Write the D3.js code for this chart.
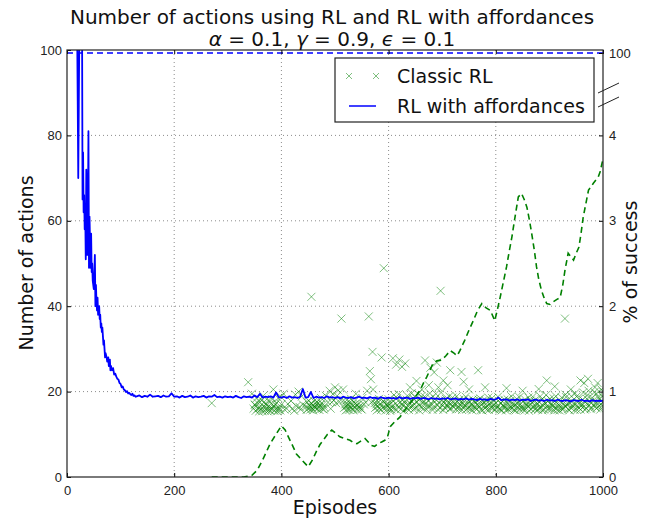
<!DOCTYPE html>
<html>
<head>
<meta charset="utf-8">
<script src="https://cdn.jsdelivr.net/npm/d3@7"></script>
<style>
  body { margin: 0; background: #fff; }
  svg { display: block; font-family: "DejaVu Sans", sans-serif; }
</style>
</head>
<body>
<svg id="chart" width="652" height="520"></svg>
<script>
// x ticks / y ticks
const episodeTicks = [0, 200, 400, 600, 800, 1000]
const actionTicks = [0, 20, 40, 60, 80, 100]
const successTicks = [0, 1, 2, 3, 4, 100]

// RL with affordances, number of actions (early, noisy part), [episode, actions]
const affordEarly = [
  [1,130],[3,150],[5,120],[8,160],[11,140],[14,125],[17,110],[19,104],[20,88],[21,70],
  [22,87],[23,104],[25,120],[26,104],[28,110],[29,65],[30,76],[31,62],[32,66],[33,58],
  [34,62],[35,51],[36,72],[37,66],[38,52],[39,60],[40,81],[41,49],[42,61],[43,55],
  [44,49],[45,57],[46,48],[47,50],[48,46],[50,44],[51,48],[52,52],[53,40],[54,45],
  [55,41],[56,39],[57,42],[58,38],[60,40],[61,37],[62,38],[63,35],[64,36],[65,34],
  [66,35],[67,33],[68,31],[69,32],[70,30],[71,28],[72,29],[74,28],[75,27],[77,28],
  [78,26],[80,27.5],[81,25],[82,26],[84,25],[86,25.5],[88,24],[90,24.2],[92,23.5],[94,23],
  [96,22.8],[98,22],[100,21.8],[102,21],[104,21.2],[106,20.5],[108,20.3],[110,19.9],[112,20.1],[114,19.6],
  [116,19.7],[118,19.4],[120,19.2],[122,19.5],[124,19.0],[126,19.1],[128,18.8]
]

// RL with affordances, number of actions, one value every 5 episodes from 130 to 1000
const affordTailStart = 130
const affordTailStep = 5
const affordTail = [
  18.9,19.1,18.7,19.0,18.8,19.3,18.8,18.9,19.0,18.7,19.1,18.8,18.9,19.6,
  18.8,18.9,18.6,19.0,18.7,18.8,19.1,18.6,18.9,18.7,18.8,19.0,18.6,18.9,18.8,19.2,18.7,18.8,18.6,18.9,
  18.7,18.8,18.6,19.0,18.7,18.5,18.9,18.7,18.8,18.6,19.1,18.7,19.5,18.6,18.8,18.7,18.9,18.6,19.8,18.7,
  18.6,18.8,18.5,18.9,18.6,18.7,18.5,18.8,20.6,18.6,18.7,19.9,18.5,18.8,18.6,18.7,18.5,18.9,18.6,18.7,
  18.5,18.7,18.4,18.8,18.6,18.5,18.7,18.4,18.6,18.8,18.5,18.6,18.4,18.7,18.5,18.6,18.3,18.7,18.5,18.4,
  18.6,18.4,18.5,18.3,18.7,18.4,18.5,18.6,18.3,18.5,18.4,18.6,18.3,18.5,18.4,18.2,18.5,18.3,18.4,18.2,
  18.4,18.3,18.5,18.2,18.3,18.4,18.1,18.3,18.2,18.4,18.1,18.3,18.2,18.0,18.3,18.1,18.2,18.0,18.3,18.1,
  18.2,18.6,18.0,18.1,18.2,17.9,18.1,18.0,18.2,17.9,18.1,18.0,18.2,17.8,18.0,18.1,17.9,18.0,17.8,18.1,
  17.9,18.0,17.8,18.1,17.9,17.8,18.0,17.9,17.7,18.0,17.9,17.8,18.1,17.8,17.9,17.7,18.0,17.8,17.9,17.8,
  17.9
]

// RL with affordances, % of success
const affordSuccess = [[0,100],[1000,100]]

// Classic RL, % of success, [episode, percent]
const classicSuccess = [
  [270,0],[300,0],[330,0],[345,0.02],[355,0.08],[365,0.2],[379,0.39],[391,0.51],[400,0.6],[407,0.55],
  [413,0.47],[420,0.38],[428,0.27],[438,0.2],[450,0.12],[458,0.2],[466,0.31],[472,0.38],[478,0.43],[486,0.5],
  [494,0.55],[500,0.52],[509,0.47],[518,0.45],[528,0.43],[535,0.4],[541,0.39],[548,0.42],[556,0.45],[562,0.41],
  [568,0.37],[574,0.36],[580,0.39],[587,0.41],[593,0.43],[598,0.47],[603,0.59],[612,0.65],[621,0.7],[630,0.78],
  [640,0.86],[650,0.94],[659,1.02],[665,1.1],[671,1.17],[677,1.25],[683,1.33],[690,1.36],[699,1.37],[707,1.42],
  [715,1.48],[722,1.45],[728,1.42],[733,1.48],[742,1.6],[750,1.72],[758,1.83],[766,1.95],[774,2.03],[782,1.98],
  [790,1.95],[798,1.83],[803,1.96],[808,2.1],[814,2.28],[820,2.46],[825,2.64],[830,2.81],[836,3.05],[842,3.28],
  [848,3.32],[853,3.25],[858,3.16],[863,3.0],[867,2.85],[872,2.65],[876,2.46],[880,2.32],[885,2.19],[890,2.1],
  [895,2.03],[901,2.02],[907,2.05],[914,2.08],[920,2.1],[925,2.25],[929,2.42],[935,2.62],[940,2.58],[945,2.54],
  [950,2.62],[955,2.69],[959,2.85],[963,3.04],[968,3.2],[973,3.36],[978,3.4],[982,3.44],[987,3.48],[991,3.51],
  [995,3.58],[998,3.67],[1000,3.72]
]

// Classic RL, number of actions, [episode, actions]
const classicActions = [
  [270,17.3],[338,22.2],[345,19.5],[348,16],
  [350,17],[352,15.5],[354,18.5],[356,16],[358,15.3],[360,17.5],[362,16],[364,15.4],[366,19],[367,16.5],
  [369,15.5],[371,17],[372,16],[374,15.4],[376,18],[378,16.3],[380,15.5],[381,17.2],[383,16],[385,20.5],
  [387,15.5],[389,17],[390,16],[392,15.4],[394,18.5],[396,16.2],[398,15.6],[400,17],
  [351,16.8],[355,17.4],[359,16.2],[363,18],[368,17.6],[373,16.8],[377,15.7],[382,18.3],[386,16.6],[391,17.4],
  [395,15.7],[399,18.8],
  [404,19.5],[410,16],[418,17.8],[424,15.5],[428,16.6],[432,20],[436,15.8],[440,17],
  [406,15.8],[412,17.1],[420,16],[426,19.3],[434,16.4],[438,18.9],
  [446,16.5],[448,17.5],[450,16],[452,16.8],[454,15.8],[456,42.2],[456,17.2],[458,16],[460,16.8],[461,17.8],
  [463,16.2],[465,16.9],[467,15.9],[469,17.3],[470,16.4],[472,16.8],[474,18.5],[476,16],[478,17],[480,16.3],[483,19],
  [447,15.7],[451,17.9],[455,16.4],[459,15.6],[462,16.4],[466,17.6],[471,15.7],[475,17.3],[479,15.8],
  [490,20.2],[494,17.5],[498,18],[500,21],[504,19],[508,17.6],[512,37.1],
  [487,17.5],[492,16],[496,19.4],[502,17.3],[506,20.3],
  [515,20.5],[517,16.2],[519,17],[521,16.5],[522,18],[524,15.8],[526,16.8],[528,17.5],[529,16.2],[531,16.9],
  [533,16],[535,17.6],[537,16.4],[539,19.5],[541,16.8],[543,16.2],[545,17.2],[548,16],[551,18.5],[554,17],
  [516,18],[520,15.6],[523,16.9],[527,15.7],[530,18.3],[534,15.6],[538,17.2],[542,15.7],[546,16.6],[550,15.8],
  [557,17.5],[560,20.2],[568,17.5],[571,20.5],
  [563,37.6],[565,24.8],[567,22.9],[570,29.3],[573,18],[575,16.2],[577,17],[579,16.5],[581,17.6],[583,16],
  [585,17],[587,28],[589,16.3],[591,48.9],[592,17.5],[594,16.2],[596,17],[598,16.6],[600,18.2],[602,16],[604,17.3],
  [574,17.3],[578,15.6],[582,18.3],[586,15.7],[590,17.8],[595,15.6],[599,17.1],[603,15.5],
  [608,27.8],[614,26.3],[620,27.5],[625,25.8],[631,26.6],[640,21],[652,22.5],[668,27.3],[678,25.6],[685,24.5],
  [690,26.8],[697,43.6],[702,22.6],[655,19.5],[662,20.5],[675,21.5],[693,21],
  [606,16.5],[609,17.8],[611,16],[613,17.2],[616,18.5],[618,16.4],[621,17.5],[623,15.9],[626,18],[628,16.8],
  [630,17.4],[633,16.2],[635,19],[637,17],[639,16.3],[642,17.8],[644,16.6],[646,18.4],[648,17.1],[650,16.2],
  [653,17.6],[656,16.9],[658,18.2],[660,16.4],[663,17.4],[665,16],[667,18.8],[670,17.2],[672,16.5],[674,17.9],
  [676,16.7],[679,18.4],[681,17],[683,16.3],[686,17.6],[688,19.5],[691,16.8],[694,17.4],[696,16.1],[699,18],
  [605,15.8],[610,19.2],[615,15.7],[619,19.4],[624,17],[629,15.6],[634,18.1],[638,15.7],[643,19.6],[647,15.8],
  [651,18.6],[657,15.6],[661,18.9],[666,17.6],[671,15.8],[677,19.6],[682,15.7],[687,18.3],[692,15.8],[698,19.8],
  [715,25],[736,24.6],[740,22.3],[767,25],[895,22.6],[929,37.1],[958,22.6],[972,23],[965,22],[985,21],
  [990,22],[710,21.5],[750,20.5],[780,21],[820,20.8],[850,20.2],[880,20.6],[910,21.2],[940,20.5],[1000,20],
  [701,16.8],[703,17.5],[705,16.2],[707,18.3],[709,16.9],[712,17.4],[714,15.9],[717,17],[719,18.6],[721,16.4],
  [723,17.2],[726,15.8],[728,17.7],[730,16.5],[732,18.1],[734,16.9],[737,15.7],[739,17.3],[742,16.6],[744,18.8],
  [746,17],[748,16.1],[751,17.6],[753,15.9],[755,16.8],[757,18.2],[760,16.4],[762,17.3],[764,15.8],[766,17],
  [769,16.5],[771,18.4],[773,16.9],[775,15.6],[778,17.4],[780,16.2],[782,17.8],[784,16.6],[787,15.7],[789,17.1],
  [791,16.3],[793,18.5],[796,16.9],[798,15.8],[800,17.3],[802,16.5],[805,17.9],[807,16],[809,17.2],[811,15.6],
  [814,16.8],[816,18.1],[818,16.3],[821,17.5],[823,15.9],[825,16.7],[827,17.8],[830,16.1],[832,17],[834,15.7],
  [836,16.9],[839,18.3],[841,16.4],[843,17.4],[845,15.8],[848,16.6],[850,17.7],[852,16.2],[854,15.6],[857,17.1],
  [859,16.5],[861,18.6],[863,16.8],[866,15.9],[868,17.3],[870,16.4],[872,17.9],[875,16],[877,16.9],[879,15.7],
  [881,17.6],[884,16.3],[886,18.2],[888,16.7],[890,15.8],[893,17.2],[895,16.5],[897,17.8],[899,16.1],[902,17],
  [904,15.9],[906,16.7],[908,18.4],[911,16.2],[913,17.5],[915,15.7],[917,16.9],[920,17.8],[922,16.3],[924,15.8],
  [926,17.2],[929,16.6],[931,18.7],[933,16.8],[935,15.9],[938,17.4],[940,16.2],[942,17.7],[944,16.5],[947,15.7],
  [949,17.1],[951,18.9],[953,16.4],[956,17.3],[958,15.8],[960,16.9],[962,18.1],[965,16.6],[967,17.5],[969,16],
  [971,19.2],[974,16.8],[976,17.6],[978,16.2],[980,18.5],[983,17],[985,16.4],[987,19.5],[989,17.3],[992,16.6],
  [994,18.2],[996,17],[998,19],[1000,17.5],
  [702,15.7],[706,17.9],[710,16.5],[713,18.9],[716,16.1],[720,17.7],[724,16.7],[727,18.9],[731,15.9],[735,17.5],
  [738,16.3],[741,18.2],[745,15.8],[749,17.9],[752,16.7],[756,15.6],[759,17.8],[763,16.2],[768,18.1],[772,15.7],
  [776,17.9],[779,16.8],[783,15.8],[786,18.6],[790,17.4],[794,16.1],[797,17.8],[801,16],[804,18.8],[808,15.8],
  [812,17.7],[815,16.4],[819,15.6],[822,18.2],[826,16.1],[829,18.9],[833,16.6],[837,15.6],[840,17.3],[844,18.7],
  [847,16.2],[851,15.8],[855,18.1],[858,16.9],[862,15.5],[865,17.9],[869,18.8],[873,15.9],[876,17.4],[880,16.1],
  [883,18.9],[887,15.6],[891,17.5],[894,19.2],[898,15.7],[901,18.3],[905,17.1],[909,15.6],[912,18.9],[916,16.4],
  [919,15.6],[923,18.6],[927,16.1],[930,19.3],[934,17.3],[937,15.6],[941,18.9],[945,17.1],[948,19.6],[952,15.7],
  [955,18.3],[959,16.6],[963,19.8],[966,15.8],[970,18.3],[973,20.2],[977,15.9],[981,17.8],[984,19.9],[988,16.1],
  [991,18.6],[995,15.8],[997,20.5],[999,16.7]
]

const affordActions = affordEarly.concat(
  affordTail.map((v, i) => [affordTailStart + i * affordTailStep, v])
)

const svg = d3.select('#chart')
const margin = { top: 50, right: 49, bottom: 43, left: 67 }
const width = 652
const height = 520
const plotW = width - margin.left - margin.right
const plotH = height - margin.top - margin.bottom

const x = d3.scaleLinear().domain([0, 1000]).range([margin.left, margin.left + plotW])
const y = d3.scaleLinear().domain([0, 100]).range([margin.top + plotH, margin.top])
// right axis: 0..4 % shares the left grid (4 -> 80), then a break up to 100
const ySuccess = d3.scaleLinear().domain([0, 4, 100]).range([y(0), y(80), y(99.3)])

svg.append('clipPath').attr('id', 'plot-clip')
  .append('rect')
  .attr('x', margin.left).attr('y', margin.top)
  .attr('width', plotW).attr('height', plotH)

// Grid
const grid = svg.append('g').attr('stroke', '#8c8c8c').attr('stroke-dasharray', '1,3').attr('stroke-width', 1)
grid.selectAll('.gx').data(episodeTicks.slice(1, -1)).join('line')
  .attr('x1', d => x(d)).attr('x2', d => x(d))
  .attr('y1', margin.top).attr('y2', margin.top + plotH)
grid.selectAll('.gy').data(actionTicks.slice(1, -1)).join('line')
  .attr('x1', margin.left).attr('x2', margin.left + plotW)
  .attr('y1', d => y(d)).attr('y2', d => y(d))

const plot = svg.append('g').attr('clip-path', 'url(#plot-clip)')

// Classic RL markers
const xMark = 4
plot.append('g')
  .attr('stroke', '#008000').attr('stroke-opacity', 0.5).attr('stroke-width', 1).attr('fill', 'none')
  .selectAll('path').data(classicActions).join('path')
  .attr('d', d => {
    const cx = x(d[0]), cy = y(d[1])
    return `M${cx - xMark},${cy - xMark}L${cx + xMark},${cy + xMark}M${cx - xMark},${cy + xMark}L${cx + xMark},${cy - xMark}`
  })

// RL with affordances line
plot.append('path')
  .datum(affordActions)
  .attr('fill', 'none').attr('stroke', '#0000ff').attr('stroke-width', 1.8)
  .attr('stroke-linejoin', 'round')
  .attr('d', d3.line().x(d => x(d[0])).y(d => y(d[1])))

// success lines (right axis)
plot.append('path')
  .datum(classicSuccess)
  .attr('fill', 'none').attr('stroke', '#008000').attr('stroke-width', 1.6)
  .attr('stroke-dasharray', '6,4')
  .attr('d', d3.line().x(d => x(d[0])).y(d => ySuccess(d[1])))

plot.append('path')
  .datum(affordSuccess)
  .attr('fill', 'none').attr('stroke', '#0000ff').attr('stroke-width', 1.5)
  .attr('stroke-dasharray', '6,4')
  .attr('d', d3.line().x(d => x(d[0])).y(d => ySuccess(d[1])))

// Axes (matplotlib classic: ticks inside)
const tickFont = g => g.selectAll('text').attr('font-size', 13).attr('fill', '#222')
const noDomain = g => g.select('.domain').remove()

svg.append('g')
  .attr('transform', `translate(0,${margin.top + plotH})`)
  .call(d3.axisBottom(x).tickValues(episodeTicks).tickSize(-4).tickPadding(9).tickFormat(d3.format('d')))
  .call(noDomain).call(tickFont)

svg.append('g')
  .attr('transform', `translate(0,${margin.top})`)
  .call(d3.axisTop(x).tickValues(episodeTicks).tickSize(-4).tickFormat(''))
  .call(noDomain)

svg.append('g')
  .attr('transform', `translate(${margin.left},0)`)
  .call(d3.axisLeft(y).tickValues(actionTicks).tickSize(-4).tickPadding(5))
  .call(noDomain).call(tickFont)

svg.append('g')
  .attr('transform', `translate(${margin.left + plotW},0)`)
  .call(d3.axisRight(ySuccess).tickValues(successTicks).tickSize(-4).tickPadding(6))
  .call(noDomain).call(tickFont)

// Frame
svg.append('rect')
  .attr('x', margin.left).attr('y', margin.top)
  .attr('width', plotW).attr('height', plotH)
  .attr('fill', 'none').attr('stroke', '#222').attr('stroke-width', 1.2)

// axis break marks on the right spine
const rx = margin.left + plotW
svg.append('g').attr('stroke', '#222').attr('stroke-width', 1)
  .selectAll('line').data([93, 107]).join('line')
  .attr('x1', rx - 5).attr('y1', d => d)
  .attr('x2', rx + 16).attr('y2', d => d - 10)

// Titles
svg.append('text')
  .attr('x', 332).attr('y', 24).attr('text-anchor', 'middle')
  .attr('font-size', 20).attr('fill', '#111')
  .text('Number of actions using RL and RL with affordances')

const sub = svg.append('text')
  .attr('x', 332).attr('y', 46).attr('text-anchor', 'middle')
  .attr('font-size', 20).attr('fill', '#111')
const subParts = [['α', true], [' = 0.1, ', false], ['γ', true], [' = 0.9, ', false], ['ϵ', true], [' = 0.1', false]]
subParts.forEach(([t, it]) => {
  sub.append('tspan').attr('font-style', it ? 'italic' : 'normal').text(t)
})

svg.append('text')
  .attr('x', 335).attr('y', 514).attr('text-anchor', 'middle')
  .attr('font-size', 19).attr('fill', '#111')
  .text('Episodes')

svg.append('text')
  .attr('transform', 'translate(33,263) rotate(-90)').attr('text-anchor', 'middle')
  .attr('font-size', 19).attr('fill', '#111')
  .text('Number of actions')

svg.append('text')
  .attr('transform', 'translate(637,262) rotate(-90)').attr('text-anchor', 'middle')
  .attr('font-size', 19).attr('fill', '#111')
  .text('% of success')

// Legend
const legend = svg.append('g')
legend.append('rect')
  .attr('x', 335).attr('y', 58).attr('width', 259).attr('height', 64)
  .attr('fill', '#fff').attr('stroke', '#222').attr('stroke-width', 1.2)

legend.append('g')
  .attr('stroke', '#008000').attr('stroke-opacity', 0.5).attr('stroke-width', 1)
  .selectAll('path').data([349, 376]).join('path')
  .attr('d', cx => `M${cx - 3},73L${cx + 3},79M${cx - 3},79L${cx + 3},73`)
legend.append('line')
  .attr('x1', 349).attr('x2', 376).attr('y1', 106).attr('y2', 106)
  .attr('stroke', '#0000ff').attr('stroke-width', 1.5)

legend.selectAll('text').data(['Classic RL', 'RL with affordances']).join('text')
  .attr('x', 397).attr('y', (d, i) => 83 + i * 30)
  .attr('font-size', 19).attr('fill', '#111')
  .text(d => d)
</script>
</body>
</html>
